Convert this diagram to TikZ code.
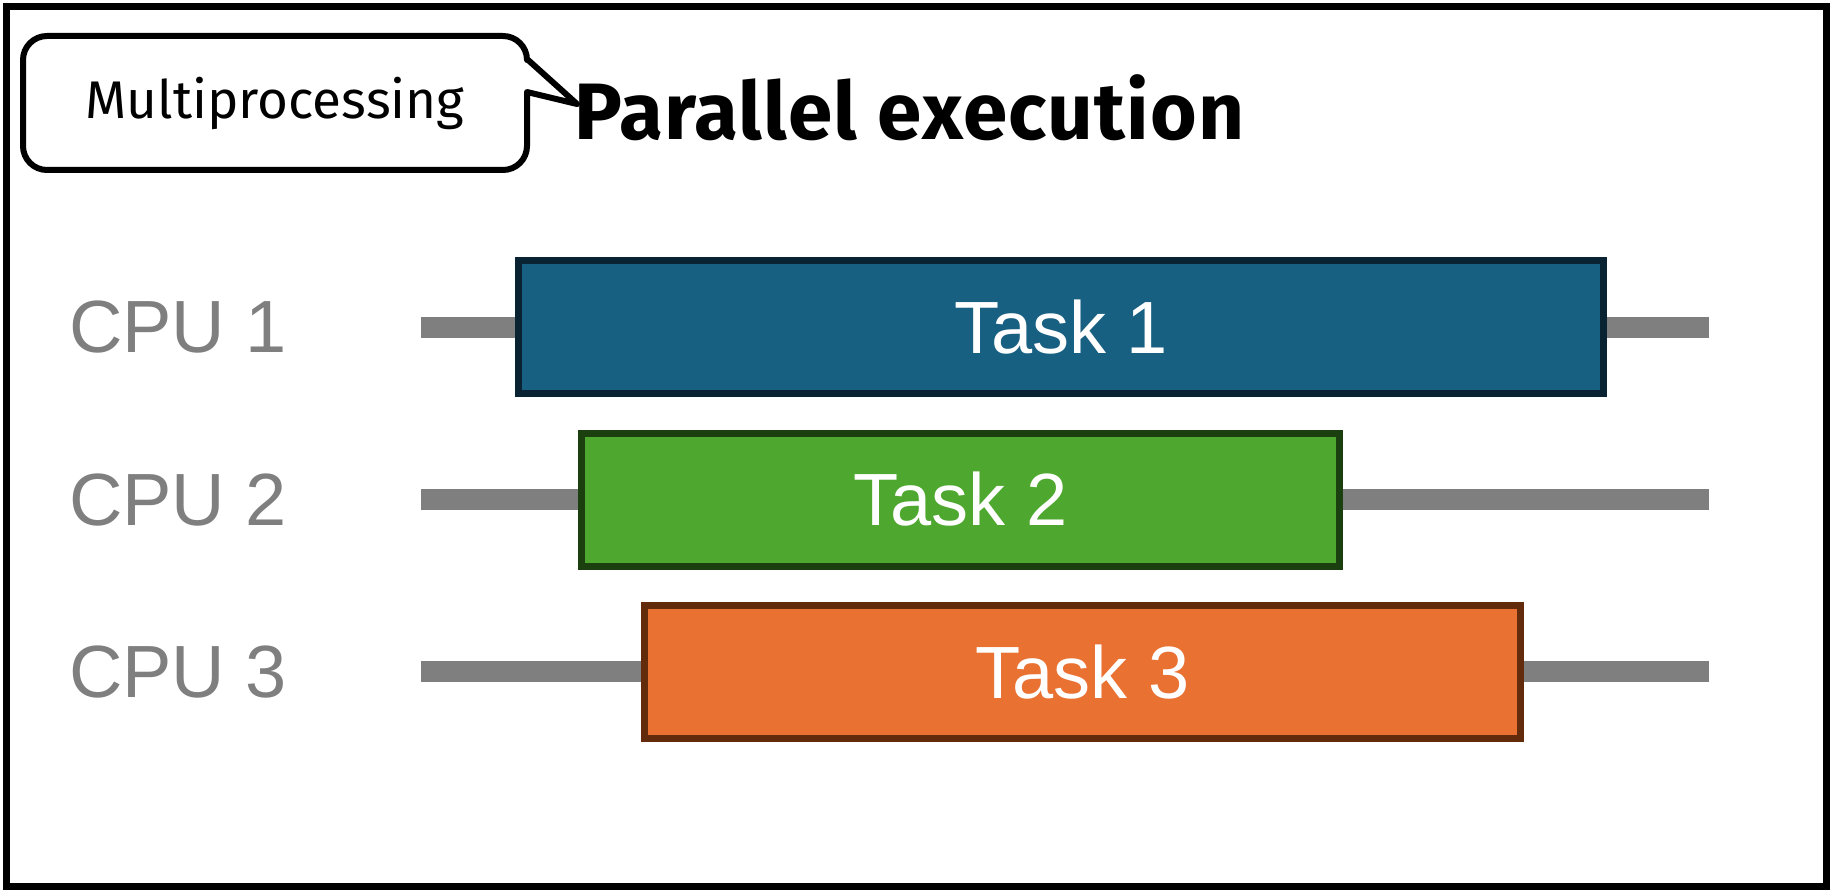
\documentclass[tikz,border=0pt]{standalone}
\usepackage{fontspec}
\setmainfont{Liberation Sans}
\newfontfamily\calloutfont{Fira Sans}
\usepackage{xcolor}
\usepackage{tikz}
\usetikzlibrary{positioning}

\definecolor{cpugray}{HTML}{7F7F7F}
\definecolor{taskone}{HTML}{176082}
\definecolor{taskoneline}{HTML}{0A2333}
\definecolor{tasktwo}{HTML}{4EA72E}
\definecolor{tasktwoline}{HTML}{1B3F0F}
\definecolor{taskthree}{HTML}{E97132}
\definecolor{taskthreeline}{HTML}{612B0C}

\tikzset{
  cpulabel/.style={anchor=base west, inner sep=0pt, text=cpugray,
    font=\fontsize{74}{88}\selectfont},
  timeline/.style={cpugray, line width=21pt},
  taskbox/.style={draw, line width=7pt, inner sep=0pt, minimum height=133pt,
    text=white, font=\fontsize{74}{88}\selectfont}
}

\begin{document}
\begin{tikzpicture}[x=1pt, y=-1pt]
\useasboundingbox (0,0) rectangle (1833,893);
% outer frame
\draw[line width=7pt] (6.5,6.5) rectangle (1826,886.5);
% speech bubble with its pointer
\draw[line width=6pt, line join=round] (527,92) [rounded corners=24pt] -- (527,170) -- (23,170) -- (23,36) -- (527,36) [sharp corners] -- (527,59) -- (577,104) -- cycle;
\node[font=\calloutfont\fontsize{53}{60}\selectfont, inner sep=0pt] (mp) at (275,103) {Multiprocessing};
% heading
\node[anchor=base west, inner sep=0pt, font=\calloutfont\bfseries\fontsize{80}{90}\selectfont\addfontfeature{LetterSpace=1.5}] (title) at (574,140) {Parallel execution};
% CPU rows
\node[cpulabel] (cpu1) at (69,352) {CPU 1};
\node[cpulabel] (cpu2) at (69,525) {CPU 2};
\node[cpulabel] (cpu3) at (69,697) {CPU 3};
\coordinate (start1) at (421,327.5);
\coordinate (end1) at (1709,327.5);
\coordinate (start2) at (421,499.5);
\coordinate (end2) at (1709,499.5);
\coordinate (start3) at (421,671.5);
\coordinate (end3) at (1709,671.5);
\draw[timeline] (start1) -- (end1);
\draw[timeline] (start2) -- (end2);
\draw[timeline] (start3) -- (end3);
% tasks
\node[taskbox, fill=taskone, draw=taskoneline, minimum width=1085pt] (task1) at (1061,327) {Task 1};
\node[taskbox, fill=tasktwo, draw=tasktwoline, minimum width=758pt] (task2) at (960.5,499.5) {Task 2};
\node[taskbox, fill=taskthree, draw=taskthreeline, minimum width=876pt] (task3) at (1082.5,672) {Task 3};
\end{tikzpicture}
\end{document}
